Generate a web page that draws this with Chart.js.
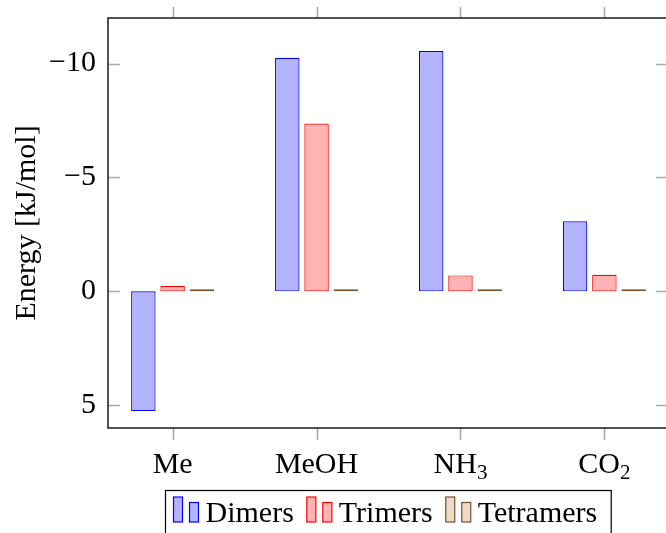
<!DOCTYPE html>
<html>
<head>
<meta charset="utf-8">
<script src="https://cdn.jsdelivr.net/npm/chart.js@4/dist/chart.umd.min.js"></script>
<style>
  html, body { margin: 0; padding: 0; overflow: hidden; background: #fff; }
  canvas { display: block; }
</style>
</head>
<body>
<canvas id="chart" width="672" height="533"></canvas>
<script>
// Interaction energies per cluster size
const categories = ['Me', 'MeOH', 'NH₃', 'CO₂'];
const seriesNames = ['Dimers', 'Trimers', 'Tetramers'];
const dimers = [5.25, -10.25, -10.55, -3.08];
const trimers = [-0.23, -7.37, -0.70, -0.73];
const tetramers = [-0.09, -0.09, -0.09, -0.09];
const yTicks = [-10, -5, 0, 5];

const FONT = '"Liberation Serif", "Times New Roman", serif';
const FONT_SIZE = 30;

const fills = ['#b3b3ff', '#ffb3b3', '#ecd9c6'];
const strokes = ['#0000ff', '#ff0000', '#75502c'];

function toPoints(vals) {
  return vals.map((v, i) => ({ x: i, y: v }));
}

const datasets = [dimers, trimers, tetramers].map((vals, k) => ({
  label: seriesNames[k],
  data: toPoints(vals),
  backgroundColor: fills[k],
  borderColor: strokes[k],
  borderWidth: 1.2,
  borderSkipped: false,
  categoryPercentage: 0.61,
  barPercentage: 0.836
}));

function fmt(v) {
  return v < 0 ? '\u2212' + Math.abs(v) : String(v);
}

// Text helper: Unicode subscript digits are drawn as smaller, lowered digits
const SUBS = '₀₁₂₃₄₅₆₇₈₉';
function splitLabel(text) {
  const parts = [];
  for (const ch of text) {
    const idx = SUBS.indexOf(ch);
    const sub = idx >= 0;
    const c = sub ? String(idx) : ch;
    const last = parts[parts.length - 1];
    if (last && last.sub === sub) last.t += c; else parts.push({ t: c, sub });
  }
  return parts;
}
function measureLabel(ctx, text, size) {
  const parts = splitLabel(text);
  let total = 0;
  parts.forEach(p => {
    ctx.font = (p.sub ? size * 0.7 : size) + 'px ' + FONT;
    p.w = ctx.measureText(p.t).width;
    total += p.w;
  });
  return { parts, total };
}
function drawLabel(ctx, text, x0, baseline, size, centered) {
  const { parts, total } = measureLabel(ctx, text, size);
  let x = centered ? x0 - total / 2 : x0;
  ctx.textAlign = 'left';
  ctx.textBaseline = 'alphabetic';
  parts.forEach(p => {
    ctx.font = (p.sub ? size * 0.7 : size) + 'px ' + FONT;
    ctx.fillText(p.t, x, baseline + (p.sub ? size * 0.2 : 0));
    x += p.w;
  });
  return total;
}

const framePlugin = {
  id: 'frame',
  afterDatasetsDraw(chart) {
    const { ctx, chartArea: a, scales } = chart;
    ctx.save();
    // tick marks
    ctx.strokeStyle = '#acacac';
    ctx.lineWidth = 1.6;
    ctx.beginPath();
    yTicks.forEach(t => {
      const y = Math.round(scales.y.getPixelForValue(t)) + 0.5;
      ctx.moveTo(a.left, y); ctx.lineTo(a.left + 12, y);
      ctx.moveTo(a.right, y); ctx.lineTo(a.right - 12, y);
    });
    categories.forEach((c, i) => {
      const x = Math.round(scales.x.getPixelForValue(i)) + 0.5;
      ctx.moveTo(x, a.bottom); ctx.lineTo(x, a.bottom + 12);
      ctx.moveTo(x, a.top); ctx.lineTo(x, a.top - 11);
    });
    ctx.stroke();
    // axis frame
    ctx.strokeStyle = '#1a1a1a';
    ctx.lineWidth = 1.5;
    ctx.strokeRect(a.left, a.top, a.right - a.left, a.bottom - a.top);
    // category labels
    ctx.fillStyle = '#000';
    categories.forEach((c, i) => {
      drawLabel(ctx, c, scales.x.getPixelForValue(i), a.bottom + 45, FONT_SIZE, true);
    });
    ctx.restore();
  }
};

const legendPlugin = {
  id: 'barLegend',
  afterDraw(chart) {
    const { ctx, chartArea: a } = chart;
    const ds = chart.data.datasets;
    ctx.save();
    const pad = 8, iconW = 9, gap = 7, sep = 13, endPad = 14;
    let width = pad + endPad;
    ds.forEach((d, k) => {
      width += iconW + gap + iconW + gap + measureLabel(ctx, d.label, FONT_SIZE).total;
      if (k < ds.length - 1) width += sep;
    });
    const left = Math.round((a.left + a.right) / 2 - width / 2) + 0.5;
    const top = 490.5;
    const baseline = 522;
    ctx.strokeStyle = '#000';
    ctx.lineWidth = 1.2;
    ctx.strokeRect(left, top, width, 60);
    let x = left + pad;
    ds.forEach((d) => {
      ctx.fillStyle = d.backgroundColor;
      ctx.strokeStyle = d.borderColor;
      ctx.lineWidth = 1.2;
      ctx.fillRect(x, baseline - 25, iconW, 25);
      ctx.strokeRect(x, baseline - 25, iconW, 25);
      x += iconW + gap;
      ctx.fillRect(x, baseline - 19.5, iconW, 19.5);
      ctx.strokeRect(x, baseline - 19.5, iconW, 19.5);
      x += iconW + gap;
      ctx.fillStyle = '#000';
      x += drawLabel(ctx, d.label, x, baseline, FONT_SIZE, false) + sep;
    });
    ctx.restore();
  }
};

new Chart(document.getElementById('chart'), {
  type: 'bar',
  data: { datasets },
  plugins: [framePlugin, legendPlugin],
  options: {
    responsive: false,
    animation: false,
    layout: { padding: { top: 18, right: 4, left: 0, bottom: 0 } },
    plugins: { legend: { display: false }, tooltip: { enabled: false } },
    scales: {
      x: {
        type: 'linear',
        offset: false,
        min: -0.449,
        max: 3.442,
        grid: { display: false, drawTicks: false },
        border: { display: false },
        ticks: { display: false },
        afterBuildTicks(scale) { scale.ticks = categories.map((c, i) => ({ value: i })); },
        afterFit(scale) {
          scale.height = 105;
          scale.paddingLeft = 0; scale.paddingRight = 0;
        }
      },
      y: {
        min: -12,
        max: 6,
        reverse: true,
        grid: { display: false, drawTicks: false },
        border: { display: false },
        afterBuildTicks(scale) { scale.ticks = yTicks.map(v => ({ value: v })); },
        afterFit(scale) {
          scale.width = 108;
          scale.paddingTop = 0; scale.paddingBottom = 0;
        },
        ticks: {
          padding: 12,
          color: '#000',
          font: { family: FONT, size: FONT_SIZE },
          callback: v => fmt(v)
        },
        title: {
          display: true,
          text: 'Energy [kJ/mol]',
          color: '#000',
          font: { family: FONT, size: FONT_SIZE },
          padding: { top: 9, bottom: 0 }
        }
      }
    }
  }
});
</script>
</body>
</html>
